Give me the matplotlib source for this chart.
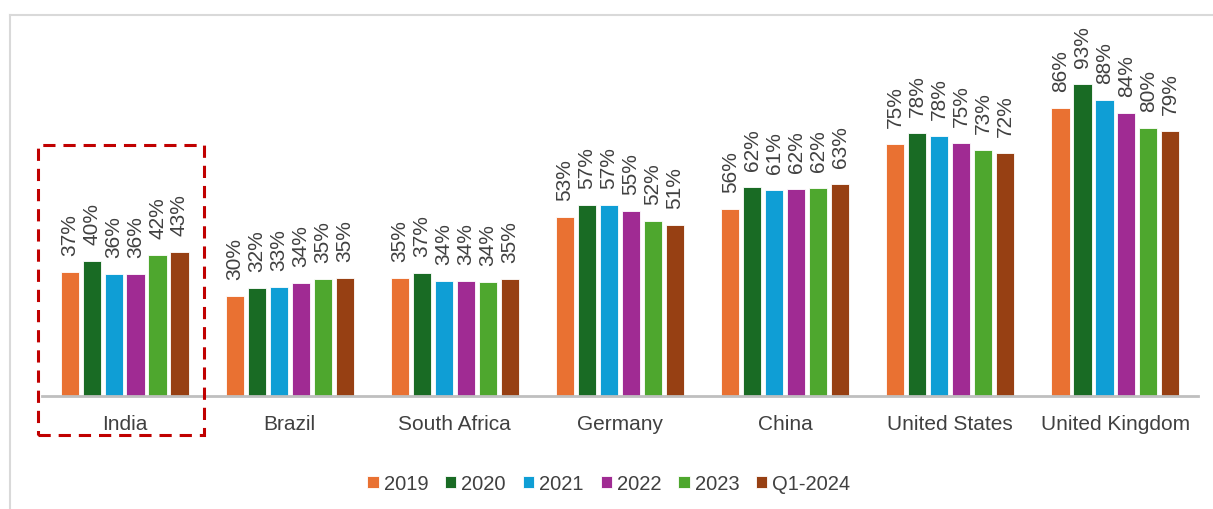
import numpy as np
import matplotlib
matplotlib.use("Agg")
import matplotlib.pyplot as plt
from matplotlib.patches import Rectangle
from matplotlib.lines import Line2D

plt.rcParams['font.family'] = ['Liberation Sans', 'DejaVu Sans']

countries = ['India', 'Brazil', 'South Africa', 'Germany', 'China',
             'United States', 'United Kingdom']
series = ['2019', '2020', '2021', '2022', '2023', 'Q1-2024']
colors = ['#E97132', '#196B24', '#0F9ED5', '#A02B93', '#4EA72E', '#974013']

# bar heights and the rounded labels shown above them
v2019 = [37.1, 29.8, 35.2, 53.3, 55.7, 75.3, 85.9]
v2020 = [40.2, 32.1, 36.8, 57.1, 62.3, 78.5, 93.0]
v2021 = [36.3, 32.6, 34.2, 56.9, 61.4, 77.6, 88.3]
v2022 = [36.3, 33.7, 34.3, 55.2, 61.8, 75.4, 84.4]
v2023 = [42.0, 35.0, 33.9, 52.3, 62.2, 73.3, 80.1]
vq1 = [43.1, 35.3, 34.9, 51.0, 63.2, 72.4, 79.2]
values = [v2019, v2020, v2021, v2022, v2023, vq1]

txt = '#404040'
W, H = 1213, 509
fig = plt.figure(figsize=(W / 100, H / 100), dpi=100)
ax = fig.add_axes([42 / W, 113 / H, 1156 / W, 366 / H])

x = np.arange(len(countries))
pitch = 0.133
bw = 0.11
for i, (name, vals) in enumerate(zip(series, values)):
    xs = x + (i - 2.5) * pitch
    ax.bar(xs, vals, bw, color=colors[i], edgecolor='white', linewidth=0.6,
           label=name, zorder=2)
    for xi, v in zip(xs, vals):
        ax.annotate('%d%%' % round(v), (xi, v), xytext=(0, 11.5), textcoords='offset points',
                    rotation=90, ha='center', va='bottom', fontsize=15, color=txt)

ax.set_xlim(-0.5, len(countries) - 0.5)
ax.set_ylim(0, 366 / 3.35)
ax.set_xticks(x)
ax.set_xticklabels(countries, fontsize=15, color=txt)
ax.tick_params(axis='x', length=0, pad=14)
ax.set_yticks([])
for s in ['top', 'right', 'left']:
    ax.spines[s].set_visible(False)
ax.spines['bottom'].set_color('#BFBFBF')
ax.spines['bottom'].set_linewidth(2)
ax.spines['bottom'].set_zorder(3)

# dashed box around India
box = Rectangle((-0.524, -11.6), 1.005, 86.5, fill=False, edgecolor='#C00000',
                linewidth=2.2, linestyle=(0, (4, 2.6)), clip_on=False, zorder=4)
ax.add_patch(box)

# light frame (top and left)
fig.add_artist(Line2D([10 / W, 1], [1 - 15 / H, 1 - 15 / H], color='#D9D9D9',
                      lw=1.5, transform=fig.transFigure))
fig.add_artist(Line2D([10 / W, 10 / W], [0, 1 - 15 / H], color='#D9D9D9',
                      lw=1.5, transform=fig.transFigure))

leg = fig.legend(loc='center', bbox_to_anchor=(609 / W, 25 / H), ncol=6,
                 frameon=False, fontsize=14.5, handlelength=0.55, handleheight=0.55,
                 handletextpad=0.25, columnspacing=0.85)
for t in leg.get_texts():
    t.set_color(txt)

fig.savefig('out.png', dpi=100)
